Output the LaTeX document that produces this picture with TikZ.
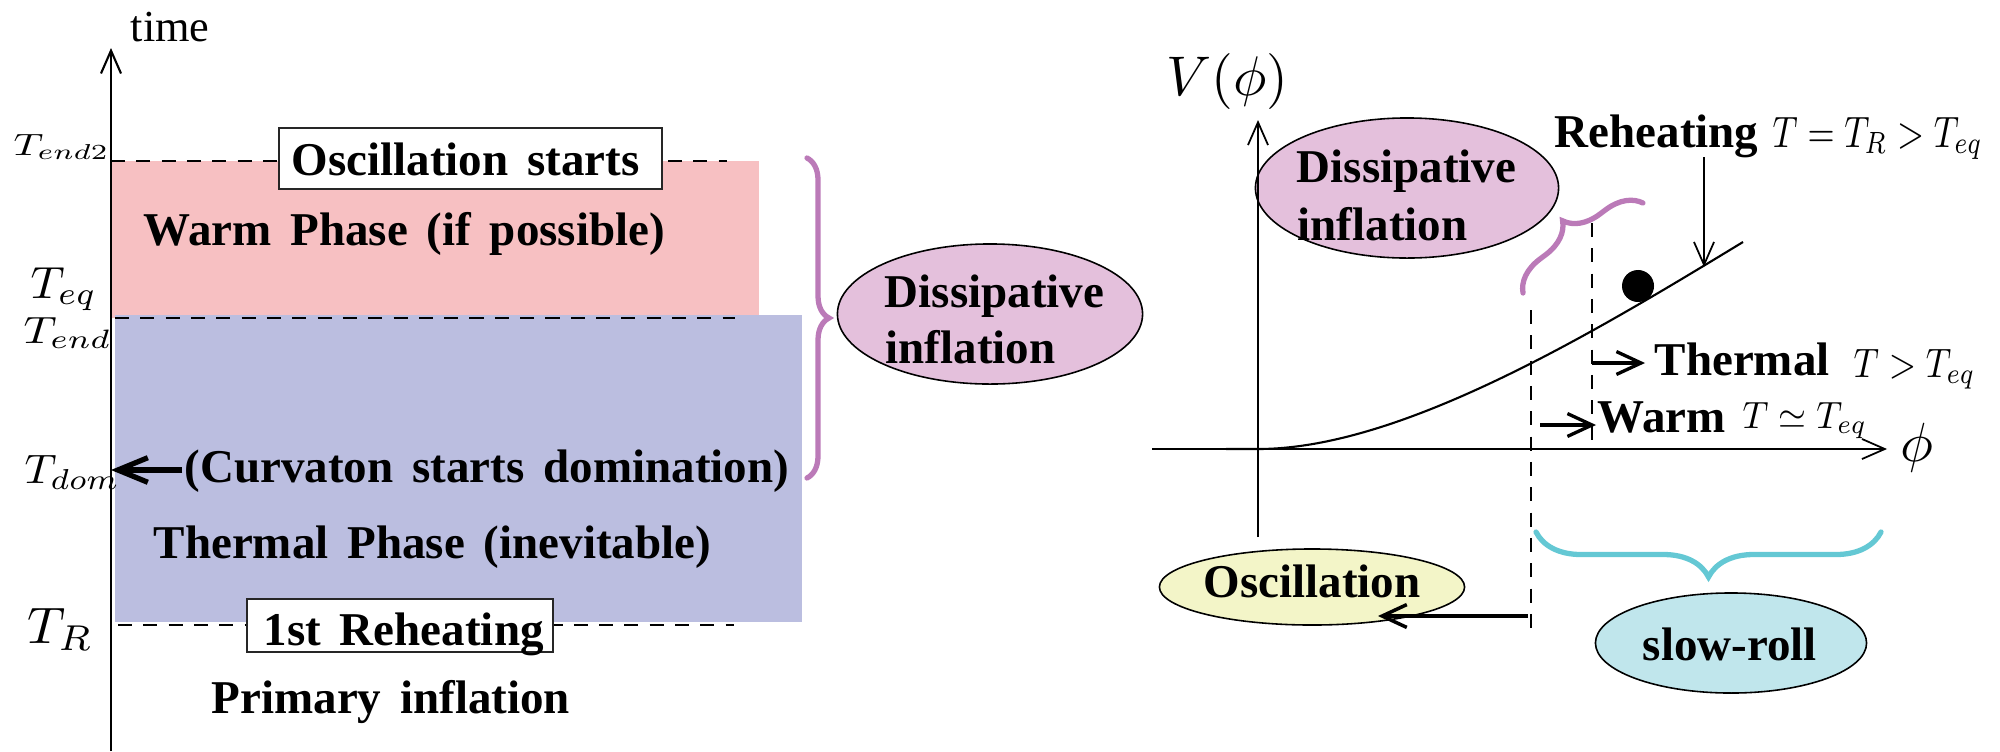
\documentclass[tikz,border=0pt]{standalone}
\usepackage{graphicx}
\usepackage{fontspec}
\setmainfont{Liberation Serif}[WordSpace=1.6]
\usetikzlibrary{arrows.meta,decorations.pathreplacing,shapes.geometric}
\definecolor{warmpink}{RGB}{247,192,194}
\definecolor{thermblue}{RGB}{187,190,224}
\definecolor{bracepurple}{RGB}{187,122,184}
\definecolor{dissfill}{RGB}{228,192,220}
\definecolor{oscfill}{RGB}{243,245,200}
\definecolor{slowfill}{RGB}{192,230,236}
\definecolor{bracecyan}{RGB}{100,200,212}
\newcommand{\bigbf}{\fontsize{13.37}{16}\selectfont\bfseries}
\newcommand{\mlab}[3]{\scalebox{#1}[#2]{$#3$}}
\tikzset{
  txt/.style={inner sep=0pt, anchor=base west, font=\bigbf},
  mth/.style={inner sep=0pt, anchor=base west},
  dashln/.style={line width=0.55pt, dash pattern=on 4pt off 3.2pt},
  thinax/.style={line width=0.5pt, -{Straight Barb[length=6.5pt,width=5.7pt]}},
  fatarrow/.style={line width=#1, -{Straight Barb[length=7pt,width=6.5pt]}},
  ellbox/.style={ellipse, draw, line width=0.45pt, inner sep=0pt},
  labbox/.style={rectangle, draw=black!85, line width=0.55pt, fill=white, inner sep=0pt},
  curlybrace/.style={decorate, decoration={brace, amplitude=#1}, line width=1.5pt, line cap=round},
}
\begin{document}
\begin{tikzpicture}[x=0.01cm, y=-0.01cm]
\useasboundingbox (0,0) rectangle (2000,751);

% ---------------- left panel ----------------
\fill[warmpink] (111,161) rectangle (759,318);
\fill[thermblue] (115,315) rectangle (802,622);

\draw[dashln] (111,161) -- (727,161);
\draw[dashln] (115,318) -- (735,318);
\draw[dashln] (118,625) -- (734,625);

\coordinate (tb) at (111,751);
\coordinate (tt) at (111,48);
\draw[thinax, line width=0.6pt] (tb) -- (tt);
\node[font=\fontsize{12.6}{14}\selectfont, inner sep=0pt, anchor=base west] (time) at (130,41) {time};

\node[mth] (tend2) at (13,155) {\mlab{1.17}{0.875}{T_{end2}}};
\node[mth] (teq) at (30,298) {\mlab{1.34}{1.28}{T_{eq}}};
\node[mth] (tend) at (23,343) {\mlab{1.30}{1.08}{T_{end}}};
\node[mth] (tdom) at (24,483) {\mlab{1.26}{1.17}{T_{dom}}};
\node[mth] (tr) at (27,643) {\mlab{1.50}{1.46}{T_R}};

\node[labbox, minimum width=3.83cm, minimum height=0.61cm] (oscbox) at (470.5,158.5) {};
\node[txt] (osctxt) at (291,175) {Oscillation starts};
\node[txt] (warm) at (143,245) {Warm Phase (if possible)};
\node[txt] (curv) at (184,482) {(Curvaton starts domination)};
\node[txt] (thermal) at (153,558) {Thermal Phase (inevitable)};
\node[labbox, minimum width=3.06cm, minimum height=0.53cm] (rehbox) at (400,625.5) {};
\node[txt] (reh1) at (263,645) {1st Reheating};
\node[txt] (prim) at (211,713) {Primary inflation};

\coordinate (tdA) at (182,470);
\coordinate (tdB) at (111,470);
\draw[line width=1.5pt, -{Straight Barb[length=8.5pt,width=7pt]}] (tdA) -- (tdB);

\coordinate (lbT) at (807,158);
\coordinate (lbB) at (807,478);
\draw[curlybrace=0.22cm, bracepurple] (lbT) -- (lbB);

\node[ellbox, fill=dissfill, minimum width=3.05cm, minimum height=1.40cm] (dissL) at (990,314) {};
\node[txt] (dissL1) at (884,307) {Dissipative};
\node[txt] (dissL2) at (885,363) {inflation};

% ---------------- right panel ----------------
\node[ellbox, fill=dissfill, minimum width=3.03cm, minimum height=1.40cm] (dissR) at (1407,188) {};
\node[txt] (dissR1) at (1296,182) {Dissipative};
\node[txt] (dissR2) at (1297,240) {inflation};

\coordinate (hx0) at (1152,449);
\coordinate (hx1) at (1887,449);
\coordinate (vy0) at (1258,537);
\coordinate (vy1) at (1258,120);
\draw[thinax] (hx0) -- (hx1);
\draw[thinax] (vy0) -- (vy1);
\node[mth] (vphi) at (1166,95) {\mlab{1.59}{1.59}{V(\phi)}};
\node[mth] (phi) at (1900,461) {\mlab{1.57}{1.57}{\phi}};

\coordinate (c0) at (1226,449);
\coordinate (corig) at (1258,449);
\coordinate (cend) at (1743,242);
\draw[line width=0.6pt] (c0) -- (corig) .. controls (1400,449) and (1590,335) .. (cend);
\node[circle, fill=black, inner sep=0pt, minimum size=0.32cm] (ball) at (1638,286) {};

\node[txt] (rehR) at (1554,147) {Reheating};
\node[mth] (rehM) at (1772,147) {\mlab{0.99}{1.25}{T=T_R>T_{eq}}};
\coordinate (rhA) at (1704,157);
\coordinate (rhB) at (1704,267);
\draw[thinax] (rhA) -- (rhB);

\coordinate (sbA) at (1523,293);
\coordinate (sbB) at (1643,203);
\draw[curlybrace=0.34cm, bracepurple] (sbA) -- (sbB);

\draw[dashln] (1531,310) -- (1531,633);
\draw[dashln] (1592,223) -- (1592,440);

\coordinate (thA) at (1592,363);
\coordinate (thB) at (1645,363);
\draw[fatarrow=0.95pt] (thA) -- (thB);
\node[txt] (therm) at (1654,375) {Thermal};
\node[mth] (thermM) at (1853,377) {\mlab{1.0}{1.17}{T>T_{eq}}};

\coordinate (wmA) at (1540,425);
\coordinate (wmB) at (1596,425);
\draw[fatarrow=0.95pt] (wmA) -- (wmB);
\node[txt] (warmR) at (1597,432) {Warm};
\node[mth] (warmM) at (1742,428) {\mlab{1.02}{1.08}{T\simeq T_{eq}}};

\coordinate (cbR) at (1881,532);
\coordinate (cbL) at (1536,532);
\draw[curlybrace=0.45cm, bracecyan] (cbR) -- (cbL);

\node[ellbox, fill=oscfill, minimum width=3.05cm, minimum height=0.76cm] (osc) at (1312,587) {};
\node[txt] (osct) at (1203,597) {Oscillation};
\node[ellbox, fill=slowfill, minimum width=2.71cm, minimum height=1.0cm] (slow) at (1731,643) {};
\node[txt] (slowt) at (1642,660) {slow-roll};

\coordinate (oaA) at (1528,616);
\coordinate (oaB) at (1378,616);
\draw[fatarrow=1pt] (oaA) -- (oaB);
\end{tikzpicture}
\end{document}
